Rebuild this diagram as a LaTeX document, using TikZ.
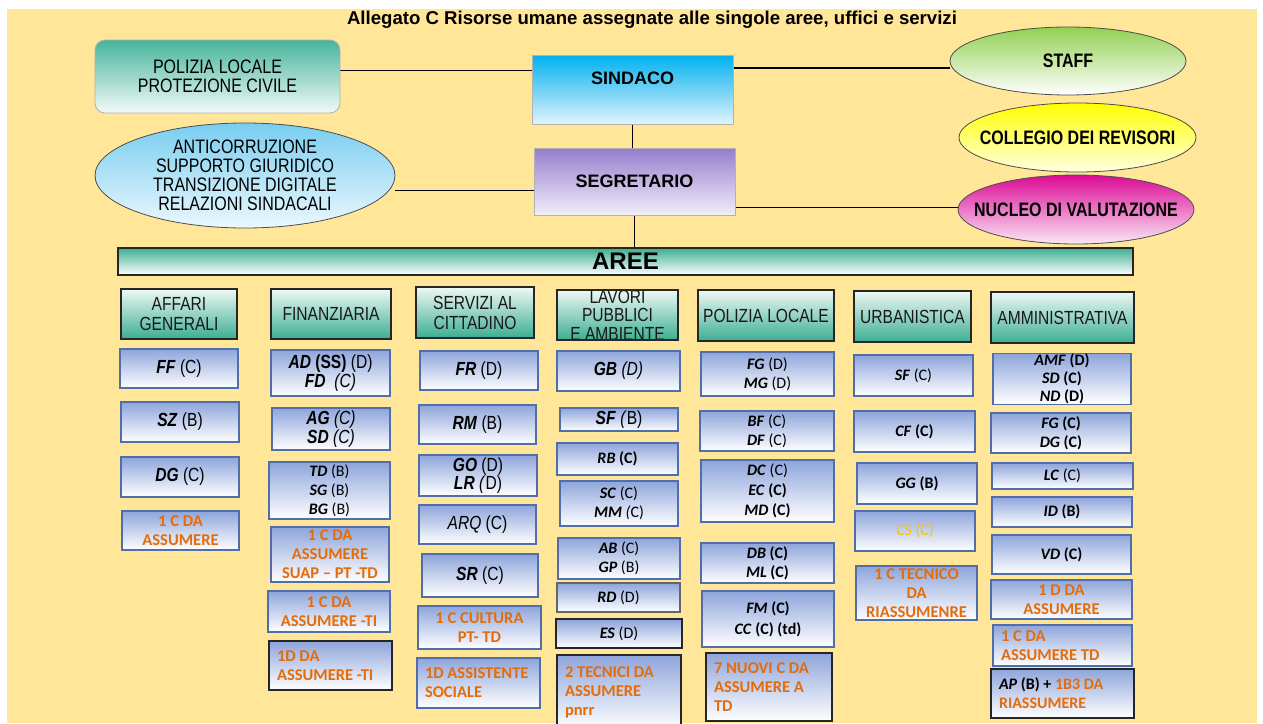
\documentclass[tikz,border=0pt]{standalone}
\usepackage{fontspec}
\setmainfont{Liberation Sans}
\newfontfamily\arn[FakeStretch=0.82]{Liberation Sans}
\newfontfamily\calib{Carlito}
\usetikzlibrary{shapes.geometric}
\pgfdeclarelayer{back}
\pgfdeclarelayer{lines}
\pgfsetlayers{back,lines,main}
\definecolor{bgy}{RGB}{255,230,153}
\definecolor{subtop}{RGB}{142,165,219}
\definecolor{subb}{RGB}{79,110,170}
\definecolor{teal1}{RGB}{60,174,145}
\definecolor{hdtop}{RGB}{238,248,245}
\definecolor{sindtop}{RGB}{0,176,240}
\definecolor{sindbot}{RGB}{225,244,252}
\definecolor{segtop}{RGB}{150,125,205}
\definecolor{segbot}{RGB}{242,238,250}
\definecolor{pltop}{RGB}{70,180,155}
\definecolor{plbot}{RGB}{242,250,248}
\definecolor{antitop}{RGB}{120,205,240}
\definecolor{antibot}{RGB}{236,248,253}
\definecolor{stafftop}{RGB}{146,208,80}
\definecolor{colltop}{RGB}{255,255,0}
\definecolor{collbot}{RGB}{255,255,225}
\definecolor{nuctop}{RGB}{220,10,150}
\definecolor{nucbot}{RGB}{250,232,245}
\definecolor{orng}{RGB}{228,108,10}
\definecolor{gold}{RGB}{255,192,0}
\newcommand{\bi}[1]{\textbf{\textit{#1}}}
\newcommand{\og}[1]{\textcolor{orng}{\textbf{#1}}}
\newcommand{\bx}[7]{\node[#6, minimum width={#4-#2}, minimum height={#5-#3}] (#1) at ({(#2+#4)/2},{(#3+#5)/2}) {#7};}
\tikzset{
  base/.style={outer sep=0pt, inner xsep=2pt, inner ysep=0pt, align=center, text=black},
  sub/.style={base, draw=subb, line width=1.1pt, top color=subtop, bottom color=white, font=\arn\fontsize{19}{19}\selectfont},
  csub/.style={sub, font=\calib\fontsize{16}{19}\selectfont},
  csubl/.style={csub, align=flush left},
  osub/.style={sub, text=orng, font=\calib\bfseries\fontsize{16.5}{19}\selectfont},
  osubl/.style={osub, align=flush left},
  dk/.style={draw=black!85, line width=1.5pt},
  hdr/.style={base, draw=black!85, line width=1.3pt, top color=hdtop, bottom color=teal1, text=black!90, font=\arn\fontsize{19}{20}\selectfont},
  topbox/.style={base, draw=gray!60, line width=0.8pt, font=\bfseries\fontsize{18}{20}\selectfont},
  ell/.style={base, ellipse, draw=black!70, line width=0.8pt},
  etext/.style={base, font=\arn\bfseries\fontsize{19.5}{20}\selectfont},
  conn/.style={draw=black, line width=1.2pt}
}
\begin{document}
\begin{tikzpicture}[x=1pt,y=-1pt]
\useasboundingbox (0,0) rectangle (1263,723);
\begin{pgfonlayer}{back}
\fill[white] (0,0) rectangle (1263,723);
\fill[bgy] (7,9) rectangle (1257,723);
\end{pgfonlayer}

\node[font=\bfseries\fontsize{18.6}{20}\selectfont] (title) at (652,20) {Allegato C Risorse umane assegnate alle singole aree, uffici e servizi};

% top level
\bx{pl}{95}{40}{340}{113}{base, rounded corners=10pt, draw=gray!60, line width=0.8pt, top color=pltop, bottom color=plbot, font=\arn\fontsize{19.5}{19}\selectfont}{POLIZIA LOCALE\\PROTEZIONE CIVILE}
\bx{sind}{532}{55}{733}{124}{topbox, top color=sindtop, bottom color=sindbot}{\raisebox{5pt}[0pt][0pt]{SINDACO}}
\bx{seg}{534}{148}{735}{215}{topbox, top color=segtop, bottom color=segbot}{SEGRETARIO}
\bx{staff}{950}{27}{1186}{95}{ell, top color=stafftop, bottom color=white}{}
\node[etext] (stafft) at (staff.center) {STAFF};
\bx{coll}{959}{103}{1196}{172}{ell, top color=colltop, bottom color=collbot}{}
\node[etext] (collt) at (coll.center) {COLLEGIO DEI REVISORI};
\bx{nuc}{958}{175}{1194}{244}{ell, top color=nuctop, bottom color=nucbot}{}
\node[etext] (nuct) at (nuc.center) {NUCLEO DI VALUTAZIONE};
\bx{anti}{95}{123}{395}{228}{ell, top color=antitop, bottom color=antibot}{}
\node[etext, font=\arn\fontsize{19.5}{19}\selectfont] (antit) at (anti.center) {ANTICORRUZIONE\\SUPPORTO GIURIDICO\\TRANSIZIONE DIGITALE\\RELAZIONI SINDACALI};
\bx{aree}{118}{248}{1133}{275}{base, draw=black!85, line width=1.2pt, top color=teal1, bottom color=white, font=\bfseries\fontsize{24}{26}\selectfont}{AREE}

% connectors
\begin{pgfonlayer}{lines}
\draw[conn] ([yshift=6pt]pl.east) -- ([yshift=6pt]pl.east -| sind.west);
\draw[conn] ([yshift=-7pt]staff.west) -- ([yshift=-7pt]staff.west -| sind.east);
\draw[conn] (sind.south) -- (sind.south |- seg.north);
\draw[conn] ([yshift=-9pt]seg.west) -- ([yshift=-9pt]seg.west -| anti.east);
\draw[conn] ([yshift=2pt]nuc.west) -- ([yshift=2pt]nuc.west -| seg.east);
\draw[conn] (seg.south) -- (seg.south |- aree.north);
\end{pgfonlayer}

% Affari generali
\bx{ag}{121}{289}{237}{339}{hdr}{AFFARI\\GENERALI}
\bx{ag1}{120}{349}{238}{388}{sub}{\bi{FF} (C)}
\bx{ag2}{121}{402}{239}{442}{sub}{\bi{SZ} (B)}
\bx{ag3}{121}{457}{239}{497}{sub}{\bi{DG} (C)}
\bx{ag4}{122}{511}{239}{550}{osub}{1 C DA\\ASSUMERE}

% Finanziaria
\bx{fi}{271}{289}{391}{339}{hdr}{FINANZIARIA}
\bx{fi1}{271}{350}{390}{396}{sub}{\bi{AD} \textbf{(SS)} (D)\\\bi{FD} \textit{ (C)}}
\bx{fi2}{272}{408}{390}{450}{sub}{\bi{AG} \textit{(C)}\\\bi{SD} \textit{(C)}}
\bx{fi3}{269}{462}{390}{519}{csub}{\bi{TD} (B)\\\bi{SG} (B)\\\bi{BG} (B)}
\bx{fi4}{271}{527}{389}{582}{osub}{1 C DA\\ASSUMERE\\SUAP – PT -TD}
\bx{fi5}{268}{591}{390}{632}{osub}{1 C DA\\ASSUMERE -TI}
\bx{fi6}{269}{641}{392}{690}{osubl, dk, text width=107pt}{1D DA\\ASSUMERE -TI}

% Servizi al cittadino
\bx{sc}{416}{287}{534}{338}{hdr}{SERVIZI AL\\CITTADINO}
\bx{sc1}{420}{351}{538}{390}{sub}{\bi{FR} (D)}
\bx{sc2}{419}{405}{536}{444}{sub}{\bi{RM} (B)}
\bx{sc3}{419}{455}{537}{496}{sub, font=\arn\fontsize{19}{18}\selectfont}{\bi{GO} (D)\\\bi{LR} \textit{(}D)}
\bx{sc4}{419}{505}{536}{544}{sub}{\textit{ARQ} (C)}
\bx{sc5}{422}{554}{538}{597}{sub}{\bi{SR} (C)}
\bx{sc6}{418}{606}{541}{649}{osub}{1 C CULTURA\\PT- TD}
\bx{sc7}{417}{658}{540}{708}{osubl, text width=107pt}{1D ASSISTENTE\\SOCIALE}

% Lavori pubblici
\bx{lp}{557}{290}{678}{340}{hdr}{}
\begin{scope}
\clip (lp.south west) rectangle (lp.north east);
\node[base, text=black!90, font=\arn\fontsize{19}{18.5}\selectfont] (lpt) at (lp.center) {LAVORI\\PUBBLICI\\E AMBIENTE};
\end{scope}
\draw[draw=black!85, line width=1.3pt] (lp.south west) rectangle (lp.north east);
\bx{lp1}{557}{351}{680}{391}{sub}{\bi{GB} \textit{(D)}}
\bx{lp2}{560}{408}{678}{431}{sub}{\bi{SF} \textit{(}B)}
\bx{lp3}{557}{443}{678}{475}{csub}{\bi{RB} \textbf{(C)}}
\bx{lp4}{560}{481}{678}{526}{csub}{\bi{SC} (C)\\\bi{MM} \textit{(}C)}
\bx{lp5}{558}{538}{680}{579}{csub}{\bi{AB} (C)\\\bi{GP} (B)}
\bx{lp6}{557}{583}{680}{612}{csub, draw=gray!80!black, line width=2pt}{\bi{RD} (D)}
\bx{lp7}{556}{619}{682}{648}{csub, dk}{\bi{ES} (D)}
\bx{lp8}{557}{655}{681}{730}{osubl, dk, text width=108pt}{2 TECNICI DA\\ASSUMERE\\pnrr}

% Polizia locale
\bx{po}{698}{290}{834}{341}{hdr}{POLIZIA LOCALE}
\bx{po1}{701}{352}{834}{396}{csub}{\bi{FG} (D)\\\bi{MG} (D)}
\bx{po2}{700}{411}{834}{451}{csub}{\bi{BF} (C)\\\bi{DF} (C)}
\bx{po3}{701}{460}{834}{522}{csub, font=\calib\fontsize{16}{20}\selectfont}{\bi{DC} (C)\\\bi{EC} \textbf{(C)}\\\bi{MD} \textbf{(C)}}
\bx{po4}{701}{543}{834}{583}{csub}{\bi{DB} \textbf{(C)}\\\bi{ML} \textbf{(C)}}
\bx{po5}{702}{591}{834}{647}{csub, font=\calib\fontsize{16}{21}\selectfont}{\bi{FM} \textbf{(C)}\\\bi{CC} \textbf{(C) (td)}}
\bx{po6}{706}{653}{832}{721}{osubl, dk, text width=110pt}{7 NUOVI C DA\\ASSUMERE A\\TD}

% Urbanistica
\bx{ur}{854}{291}{971}{342}{hdr}{URBANISTICA}
\bx{ur1}{854}{355}{973}{396}{csub}{\bi{SF} (C)}
\bx{ur2}{854}{411}{975}{452}{csub}{\bi{CF} \textbf{(C)}}
\bx{ur3}{857}{463}{977}{504}{csub}{\bi{GG} \textbf{(B)}}
\bx{ur4}{855}{511}{975}{551}{csub, text=gold}{\textit{CS} (C)}
\bx{ur5}{856}{566}{977}{620}{osub}{1 C TECNICO\\DA\\RIASSUMENRE}

% Amministrativa
\bx{am}{991}{292}{1134}{343}{hdr}{AMMINISTRATIVA}
\bx{am1}{993}{354}{1131}{404}{csub, font=\calib\fontsize{16}{18}\selectfont}{\bi{AMF} \textbf{(D)}\\\bi{SD} \textbf{(C)}\\\bi{ND} \textbf{(D)}}
\bx{am2}{991}{413}{1131}{453}{csub}{\bi{FG} \textbf{(C)}\\\bi{DG} \textbf{(C)}}
\bx{am3}{992}{463}{1133}{489}{csub}{\bi{LC} (C)}
\bx{am4}{992}{497}{1132}{527}{csub}{\bi{ID} \textbf{(B)}}
\bx{am5}{992}{535}{1131}{574}{csub}{\bi{VD} \textbf{(C)}}
\bx{am6}{991}{580}{1132}{619}{osub}{1 D DA\\ASSUMERE}
\bx{am7}{993}{625}{1132}{666}{osubl, text width=123pt}{1 C DA\\ASSUMERE TD}
\bx{am8}{991}{669}{1134}{718}{csubl, dk, text width=127pt}{\bi{AP} \textbf{(B) +} \og{1B3 DA}\\\og{RIASSUMERE}}
\end{tikzpicture}
\end{document}
